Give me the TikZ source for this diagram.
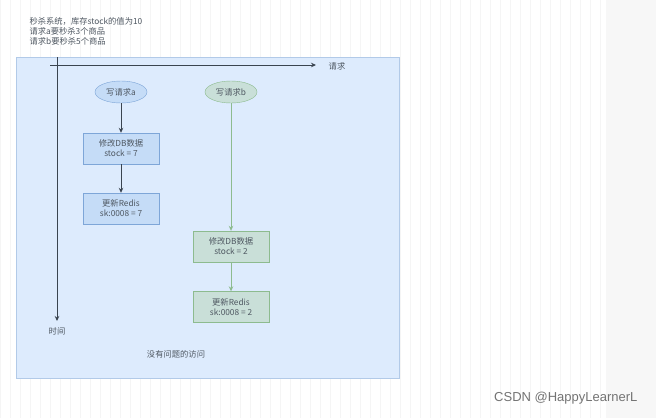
\documentclass[tikz,border=0pt]{standalone}
\usepackage{fontspec}
\setmainfont{Liberation Sans}
\newfontfamily\cjk{Noto Sans CJK SC}
\usetikzlibrary{shapes.geometric,arrows.meta}
\definecolor{panel}{HTML}{DDEBFD}
\definecolor{bfill}{HTML}{C5DCF7}
\definecolor{bdraw}{HTML}{7EA6D8}
\definecolor{gfill}{HTML}{C9DFD8}
\definecolor{gdraw}{HTML}{8DBB8F}
\definecolor{ax}{HTML}{3A4450}
\tikzset{
  txt/.style={font=\cjk\fontsize{8.3}{10}\selectfont, text=ax!90},
  ell/.style={ellipse, minimum width=52pt, minimum height=22pt, inner sep=0pt, txt},
  box/.style={rectangle, minimum width=76pt, minimum height=31pt, inner sep=0pt, align=center, txt},
  ba/.style={fill=bfill, draw=bdraw},
  gb/.style={fill=gfill, draw=gdraw},
  arr/.style={-{Stealth[length=5pt,width=4.5pt]}, line width=0.8pt}
}
\begin{document}
\begin{tikzpicture}[x=1pt,y=-1pt]
\useasboundingbox (0,0) rectangle (656,418);
\fill[white] (0,0) rectangle (656,418);
\draw[black!4, line width=0.5pt, step=10] (0,0) grid (606,418);
\fill[black!3] (606,0) rectangle (656,418);
\node[txt, anchor=west, align=left] (info) at (26,31) {秒杀系统，库存stock的值为10\\请求a要秒杀3个商品\\请求b要秒杀5个商品};
\node[draw=bdraw!60, fill=panel, minimum width=383pt, minimum height=321pt, anchor=north west, inner sep=0pt] (panel) at (16,57) {};
\coordinate (hs) at (50,65);
\coordinate (he) at (316,65);
\coordinate (vs) at (57,57);
\coordinate (ve) at (57,321);
\draw[arr, ax] (hs) -- (he);
\draw[arr, ax] (vs) -- (ve);
\node[txt] (req) at (337,66) {请求};
\node[txt] (time) at (57,331) {时间};
\node[ell, ba] (ea) at (121,92) {写请求a};
\node[ell, gb] (eb) at (231,92) {写请求b};
\node[box, ba] (a1) at (121,148.5) {修改DB数据\\stock = 7};
\node[box, ba] (a2) at (121,208.5) {更新Redis\\sk:0008 = 7};
\node[box, gb] (b1) at (231,246.5) {修改DB数据\\stock = 2};
\node[box, gb] (b2) at (231,307) {更新Redis\\sk:0008 = 2};
\draw[arr, ax] (ea) -- (a1);
\draw[arr, ax] (a1) -- (a2);
\draw[arr, gdraw] (eb) -- (b1);
\draw[arr, gdraw] (b1) -- (b2);
\node[txt] (note) at (176,354) {没有问题的访问};
\node[font=\fontsize{13}{15}\selectfont, text=black!55, anchor=east] (wm) at (641,398) {CSDN @HappyLearnerL};
\end{tikzpicture}
\end{document}
